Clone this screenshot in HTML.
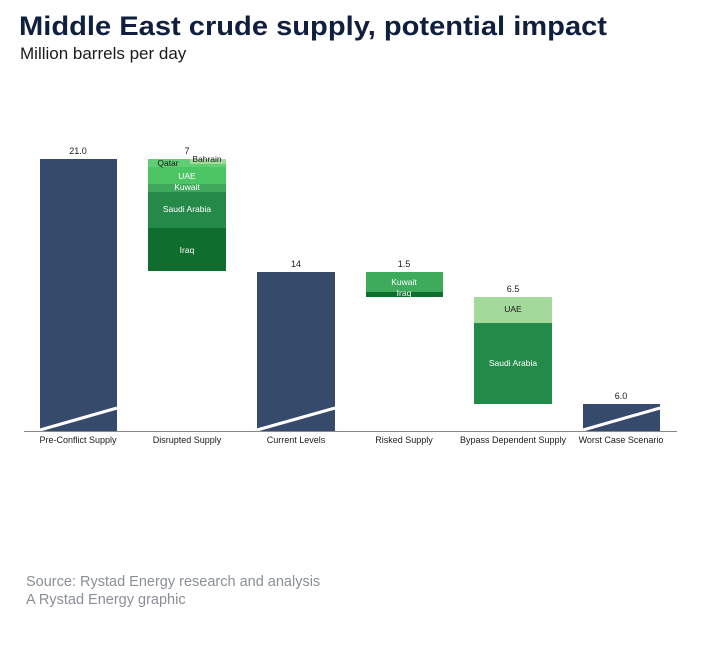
<!DOCTYPE html>
<html><head><style>
body{margin:0;width:702px;height:641px;background:#fff;overflow:hidden;font-family:"Liberation Sans",sans-serif}
</style></head><body>
<svg width="702" height="641" xmlns="http://www.w3.org/2000/svg" font-family="Liberation Sans, sans-serif">
<text x="19" y="35" font-size="27" font-weight="bold" fill="#0f1f3d" textLength="588" lengthAdjust="spacingAndGlyphs">Middle East crude supply, potential impact</text>
<text x="20" y="59" font-size="17" fill="#1a1a1a">Million barrels per day</text>

<g fill="#364a6b">
<rect x="40" y="159" width="77" height="272"/>
<rect x="257" y="272" width="78" height="159"/>
<rect x="583" y="404" width="77" height="27"/>
</g>
<g stroke="#fff" stroke-width="3">
<line x1="40" y1="430" x2="117" y2="408"/>
<line x1="257" y1="430" x2="335" y2="408"/>
<line x1="583" y1="430" x2="660" y2="408"/>
</g>

<rect x="148" y="159" width="78" height="8" fill="#5fce74"/>
<rect x="190" y="159" width="36" height="5" fill="#a5d99b"/>
<rect x="148" y="167" width="78" height="17" fill="#4cc564"/>
<rect x="148" y="184" width="78" height="8" fill="#3ea95a"/>
<rect x="148" y="192" width="78" height="36" fill="#25894a"/>
<rect x="148" y="228" width="78" height="43" fill="#0f6e2e"/>
<g font-size="8.5" text-anchor="middle" fill="#fff">
<text x="168" y="166" fill="#1a1a1a">Qatar</text>
<text x="207" y="162" fill="#1a1a1a">Bahrain</text>
<text x="187" y="179">UAE</text>
<text x="187" y="190">Kuwait</text>
<text x="187" y="212">Saudi Arabia</text>
<text x="187" y="253">Iraq</text>
</g>

<rect x="366" y="272" width="77" height="20" fill="#3eaa5b"/>
<rect x="366" y="292" width="77" height="5" fill="#0e6e2e"/>
<g font-size="8.5" text-anchor="middle" fill="#fff">
<text x="404" y="285">Kuwait</text>
<text x="404" y="296">Iraq</text>
</g>

<rect x="474" y="297" width="78" height="26" fill="#a3d99a"/>
<rect x="474" y="323" width="78" height="81" fill="#238b49"/>
<g font-size="8.5" text-anchor="middle">
<text x="513" y="312" fill="#1a1a1a">UAE</text>
<text x="513" y="366" fill="#fff">Saudi Arabia</text>
</g>

<g font-size="9" text-anchor="middle" fill="#1a1a1a">
<text x="78" y="154">21.0</text>
<text x="187" y="154">7</text>
<text x="296" y="267">14</text>
<text x="404" y="267">1.5</text>
<text x="513" y="292">6.5</text>
<text x="621" y="399">6.0</text>
</g>

<line x1="24" y1="431.5" x2="677" y2="431.5" stroke="#888" stroke-width="1"/>
<g font-size="9" text-anchor="middle" fill="#1a1a1a">
<text x="78" y="443">Pre-Conflict Supply</text>
<text x="187" y="443">Disrupted Supply</text>
<text x="296" y="443">Current Levels</text>
<text x="404" y="443">Risked Supply</text>
<text x="513" y="443">Bypass Dependent Supply</text>
<text x="621" y="443">Worst Case Scenario</text>
</g>

<text x="26" y="586" font-size="14.5" fill="#8a8f98">Source: Rystad Energy research and analysis</text>
<text x="26" y="604" font-size="14.5" fill="#8a8f98">A Rystad Energy graphic</text>
</svg>
</body></html>
